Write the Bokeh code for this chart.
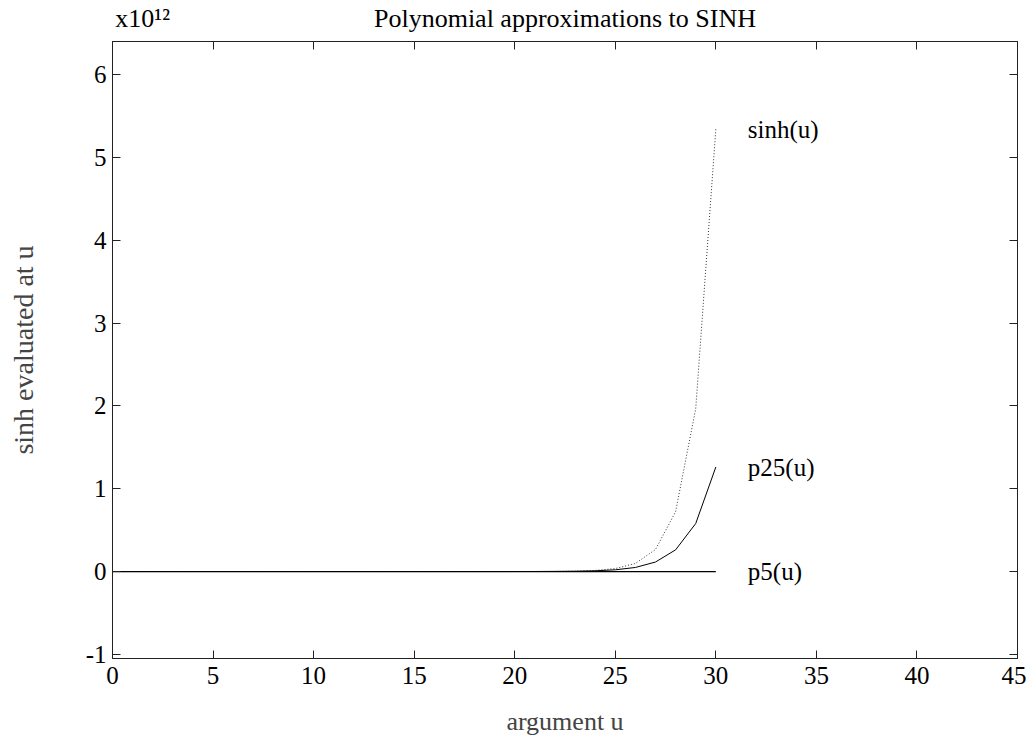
from bokeh.plotting import figure
from bokeh.models import LinearAxis, FixedTicker, Label, Range1d
from bokeh.embed import file_html
from bokeh.resources import INLINE

# ---- data (values in units of 1e12) ----
u = list(range(31))
sinh_u = [0.0, 0.0, 0.0, 0.0, 0.0, 0.0, 0.0, 0.0, 0.0, 0.0,
          0.0, 0.0, 0.0, 0.0, 0.0, 0.0000016, 0.0000044, 0.000012, 0.000033, 0.000089,
          0.00024, 0.00066, 0.0018, 0.0049, 0.0132, 0.036, 0.098, 0.266, 0.723, 1.966,
          5.343]
p25_u = [0.0, 0.0, 0.0, 0.0, 0.0, 0.0, 0.0, 0.0, 0.0, 0.0,
         0.0, 0.0, 0.0, 0.0, 0.0, 0.0000016, 0.0000044, 0.000012, 0.000033, 0.000088,
         0.00023, 0.00060, 0.0015, 0.0036, 0.0088, 0.021, 0.049, 0.115, 0.262, 0.580,
         1.262]
p5_u = [0.0] * 31
series_names = ["sinh(u)", "p25(u)", "p5(u)"]
x_ticks = [0, 5, 10, 15, 20, 25, 30, 35, 40, 45]
y_ticks = [-1, 0, 1, 2, 3, 4, 5, 6]
title_text = "Polynomial approximations to SINH"
x_label = "argument u"
y_label = "sinh evaluated at u"
scale_text = "x10\u00b9\u00b2"

FONT = "Liberation Serif"
AX = "#222222"

p = figure(width=1026, height=741,
           x_range=Range1d(0, 45), y_range=Range1d(-1.05, 6.4),
           output_backend="svg", toolbar_location=None,
           min_border_left=112, min_border_right=9,
           min_border_top=40, min_border_bottom=83)
p.grid.visible = False
p.background_fill_color = "white"
p.border_fill_color = "white"
p.outline_line_color = AX
p.outline_line_width = 1

def base_style(ax):
    ax.axis_line_color = AX
    ax.major_tick_line_color = AX
    ax.minor_tick_line_color = AX
    ax.major_label_text_font = FONT
    ax.major_label_text_color = "black"
    ax.major_tick_out = 0
    ax.minor_tick_out = 0

# bottom axis
xa = p.xaxis[0]
base_style(xa)
xa.ticker = FixedTicker(ticks=x_ticks)
xa.major_tick_in = 8
xa.minor_tick_line_color = None
xa.major_label_text_font_size = "25px"
xa.major_label_standoff = 8
xa.axis_label = x_label
xa.axis_label_text_font = FONT
xa.axis_label_text_font_size = "26px"
xa.axis_label_text_font_style = "normal"
xa.axis_label_standoff = 20

# left axis
ya = p.yaxis[0]
base_style(ya)
ya.ticker = FixedTicker(ticks=y_ticks)
ya.major_tick_in = 8
ya.minor_tick_line_color = None
ya.major_label_text_font_size = "25px"
ya.major_label_standoff = 6
ya.major_label_overrides = {-1: "-1"}
ya.axis_label = y_label
ya.axis_label_text_font = FONT
ya.axis_label_text_font_size = "28px"
ya.axis_label_text_font_style = "normal"
ya.axis_label_standoff = 44

# right axis: inward ticks only
ra = LinearAxis(ticker=FixedTicker(ticks=[], minor_ticks=y_ticks))
base_style(ra)
ra.minor_tick_in = 8
p.add_layout(ra, "right")

# top axis: inward ticks, plus the scale note and title as text
ta = LinearAxis(ticker=FixedTicker(ticks=[1.5, 22.5], minor_ticks=x_ticks))
base_style(ta)
ta.major_tick_in = 0
ta.major_tick_line_color = None
ta.minor_tick_in = 8
ta.major_label_text_font_size = "26px"
ta.major_label_standoff = 9
ta.major_label_overrides = {1.5: scale_text, 22.5: title_text}
p.add_layout(ta, "above")

p.line(u, sinh_u, line_color="#333333", line_width=1, line_dash="1 2")
p.line(u, p25_u, line_color="black", line_width=1)
p.line(u, p5_u, line_color="black", line_width=1.2)

for name, ys in zip(series_names, [sinh_u, p25_u, p5_u]):
    p.add_layout(Label(x=u[-1], y=ys[-1], text=name, x_offset=32, y_offset=0,
                       text_baseline="middle", text_align="left",
                       text_font=FONT, text_font_size="25px", text_color="black"))

open("out.html", "w").write(file_html(p, INLINE))
